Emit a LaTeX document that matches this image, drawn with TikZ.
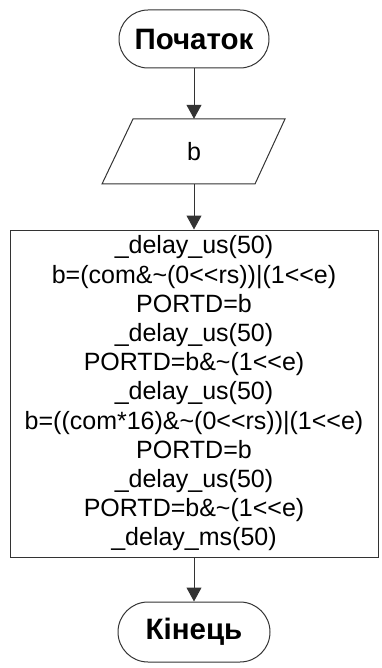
\documentclass[tikz,border=0pt]{standalone}
\usepackage{fontspec}
\setmainfont{Liberation Sans}
\usetikzlibrary{arrows.meta}
\begin{document}
\begin{tikzpicture}[x=1pt,y=1pt,
  line/.style={draw=black!80,line width=1pt},
  flow/.style={line,-{Triangle[length=14pt,width=15pt]}},
  terminal/.style={line,rounded corners=29pt,inner sep=0pt,minimum width=150pt,minimum height=58pt,
    font=\fontsize{29.5}{34}\selectfont\bfseries},
  body/.style={font=\fontsize{25}{29.2}\selectfont}
]
\useasboundingbox (0,0) rectangle (382,-668);

% start terminal
\node[terminal] (start) at (194,-39) {Початок};

% input block: text node plus its parallelogram outline
\node[body,minimum width=152pt,minimum height=65pt,inner sep=0pt] (inp) at (194,-151.5) {b};
\draw[line] (133,-119) -- (285,-119) -- (255,-184) -- (102,-184) -- cycle;

% process block
\node[line,body,align=center,minimum width=368pt,minimum height=327pt,inner sep=0pt] (proc) at (194,-393.5)
  {\_delay\_us(50)\\
   b=(com\&\textasciitilde(0<{}<rs))|(1<{}<e)\\
   PORTD=b\\
   \_delay\_us(50)\\
   PORTD=b\&\textasciitilde(1<{}<e)\\
   \_delay\_us(50)\\
   b=((com*16)\&\textasciitilde(0<{}<rs))|(1<{}<e)\\
   PORTD=b\\
   \_delay\_us(50)\\
   PORTD=b\&\textasciitilde(1<{}<e)\\
   \_delay\_ms(50)};

% end terminal
\node[terminal,minimum width=152pt,minimum height=60pt,rounded corners=30pt] (stop) at (194,-632) {Кінець};

% connectors
\draw[flow] (start.south) -- (inp.north);
\draw[flow] (inp.south) -- (proc.north);
\draw[flow] (proc.south) -- (stop.north);
\end{tikzpicture}
\end{document}
